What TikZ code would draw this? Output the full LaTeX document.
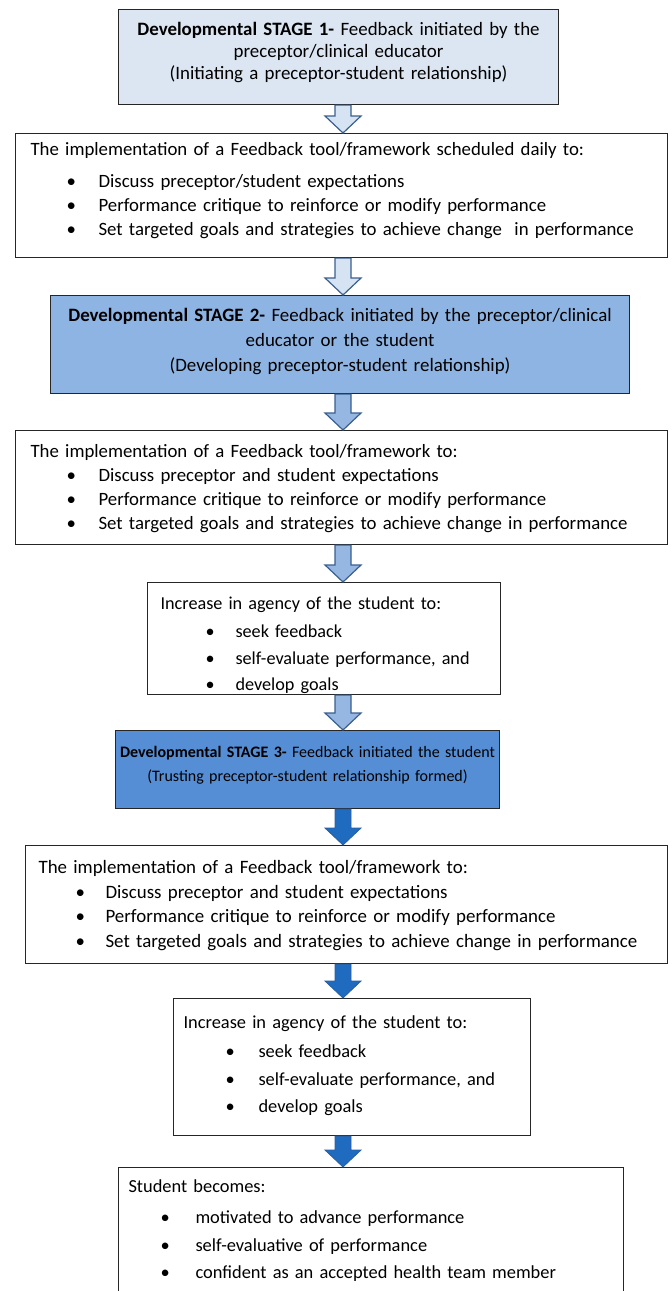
\documentclass[tikz,border=0pt]{standalone}
\usepackage{fontspec}
\setmainfont{Carlito}
\usetikzlibrary{calc}

\definecolor{stageA}{HTML}{DCE6F2}
\definecolor{stageB}{HTML}{8EB4E3}
\definecolor{stageC}{HTML}{558ED5}
\definecolor{arrowEdge}{HTML}{3A5F8F}
\definecolor{arrowPale}{HTML}{D6E3F3}
\definecolor{arrowMid}{HTML}{95B7E2}
\definecolor{arrowDeep}{HTML}{1F6BC0}
\definecolor{arrowDeepEdge}{HTML}{2A5E9E}

\hyphenpenalty=10000
\exhyphenpenalty=10000

\tikzset{
  box/.style={draw=black!85, line width=1.1pt, anchor=north west, rectangle,
    inner ysep=0pt, minimum height=0pt},
  leftbox/.style={box, align=left},
  midbox/.style={box, align=center, inner xsep=4pt},
  palearrow/.style={fill=arrowPale, draw=arrowEdge, line width=1.2pt},
  midarrow/.style={fill=arrowMid, draw=arrowEdge, line width=1.2pt},
  deeparrow/.style={fill=arrowDeep, draw=arrowDeepEdge, line width=0.8pt},
}

% block arrow on the common axis, from the bottom of #1 to the top of #2
\newcommand\blockarrow[3]{%
  \path[#3] let \p1=(#1.south -| ax), \p2=(#2.north -| ax) in
    (\x1-8pt,\y1) -- (\x1+8pt,\y1) -- (\x1+8pt,\y2+17pt) -- (\x1+18pt,\y2+17pt)
    -- (\x1,\y2) -- (\x1-18pt,\y2+17pt) -- (\x1-8pt,\y2+17pt) -- cycle;}

% a bullet line: bullet indent, text indent (both from the text margin), text
\newcommand\bitem[3]{\hspace*{#1}\makebox[#2][l]{\textbullet}#3}

\begin{document}
\begin{tikzpicture}[x=1pt,y=-1pt]
\useasboundingbox (0,0) rectangle (672,1291);
\coordinate (ax) at (343,0);

% Stage 1
\node[midbox, fill=stageA, minimum width=440pt, text width=432pt,
      text height=26pt, text depth=69pt, font=\fontsize{18.9}{22}\selectfont]
  (s1) at (118,9)
  {\textbf{Developmental STAGE 1-} Feedback initiated by the\\
   preceptor/clinical educator\\
   (Initiating a preceptor-student relationship)};

% daily feedback tool
\node[leftbox, minimum width=652pt, text width=622pt, inner xsep=15pt,
      text height=22pt, text depth=102pt, font=\fontsize{18.8}{24}\selectfont]
  (b2) at (15,133)
  {The implementation of a Feedback tool/framework scheduled daily to:\\[8pt]
   \bitem{36pt}{32pt}{Discuss preceptor/student expectations}\\
   \bitem{36pt}{32pt}{Performance critique to reinforce or modify performance}\\
   \bitem{36pt}{32pt}{Set targeted goals and strategies to achieve change\ \ in performance}};

% Stage 2
\node[midbox, fill=stageB, minimum width=579pt, text width=571pt,
      text height=26pt, text depth=72pt, font=\fontsize{18.9}{25}\selectfont]
  (s2) at (50,295)
  {\textbf{Developmental STAGE 2-} Feedback initiated by the preceptor/clinical\\
   educator or the student\\
   (Developing preceptor-student relationship)};

% feedback tool, stage 2
\node[leftbox, minimum width=652pt, text width=622pt, inner xsep=15pt,
      text height=27pt, text depth=87pt, font=\fontsize{18.8}{24}\selectfont]
  (b4) at (15,430)
  {The implementation of a Feedback tool/framework to:\\
   \bitem{36pt}{32pt}{Discuss preceptor and student expectations}\\
   \bitem{36pt}{32pt}{Performance critique to reinforce or modify performance}\\
   \bitem{36pt}{32pt}{Set targeted goals and strategies to achieve change in performance}};

% agency, stage 2
\node[leftbox, minimum width=353pt, text width=327pt, inner xsep=13pt,
      text height=27pt, text depth=85pt, font=\fontsize{18.2}{26}\selectfont]
  (b5) at (147,582)
  {Increase in agency of the student to:\\[2pt]
   \bitem{45pt}{30pt}{seek feedback}\\[1pt]
   \bitem{45pt}{30pt}{self-evaluate performance, and}\\
   \bitem{45pt}{30pt}{develop goals}};

% Stage 3
\node[midbox, fill=stageC, minimum width=384pt, text width=376pt,
      text height=27pt, text depth=51pt, font=\fontsize{16}{24}\selectfont]
  (s3) at (115,730)
  {\textbf{Developmental STAGE 3-} Feedback initiated the student\\
   (Trusting preceptor-student relationship formed)};

% feedback tool, stage 3
\node[leftbox, minimum width=642pt, text width=616pt, inner xsep=13pt,
      text height=28pt, text depth=90pt, font=\fontsize{18.9}{24.5}\selectfont]
  (b7) at (25,845)
  {The implementation of a Feedback tool/framework to:\\
   \bitem{37pt}{30pt}{Discuss preceptor and student expectations}\\
   \bitem{37pt}{30pt}{Performance critique to reinforce or modify performance}\\
   \bitem{37pt}{30pt}{Set targeted goals and strategies to achieve change in performance}};

% agency, stage 3
\node[leftbox, minimum width=357pt, text width=337pt, inner xsep=10pt,
      text height=30pt, text depth=107pt, font=\fontsize{18.4}{27}\selectfont]
  (b8) at (173,998)
  {Increase in agency of the student to:\\[2pt]
   \bitem{42pt}{33pt}{seek feedback}\\[1pt]
   \bitem{42pt}{33pt}{self-evaluate performance, and}\\
   \bitem{42pt}{33pt}{develop goals}};

% outcome
\node[leftbox, minimum width=505pt, text width=485pt, inner xsep=10pt,
      text height=25pt, text depth=115pt, font=\fontsize{18.4}{27}\selectfont]
  (b9) at (118,1167)
  {Student becomes:\\[4pt]
   \bitem{32pt}{35pt}{motivated to advance performance}\\[1pt]
   \bitem{32pt}{35pt}{self-evaluative of performance}\\
   \bitem{32pt}{35pt}{confident as an accepted health team member}};

% connectors
\blockarrow{s1}{b2}{palearrow}
\blockarrow{b2}{s2}{palearrow}
\blockarrow{s2}{b4}{midarrow}
\blockarrow{b4}{b5}{midarrow}
\blockarrow{b5}{s3}{midarrow}
\blockarrow{s3}{b7}{deeparrow}
\blockarrow{b7}{b8}{deeparrow}
\blockarrow{b8}{b9}{deeparrow}
\end{tikzpicture}
\end{document}
